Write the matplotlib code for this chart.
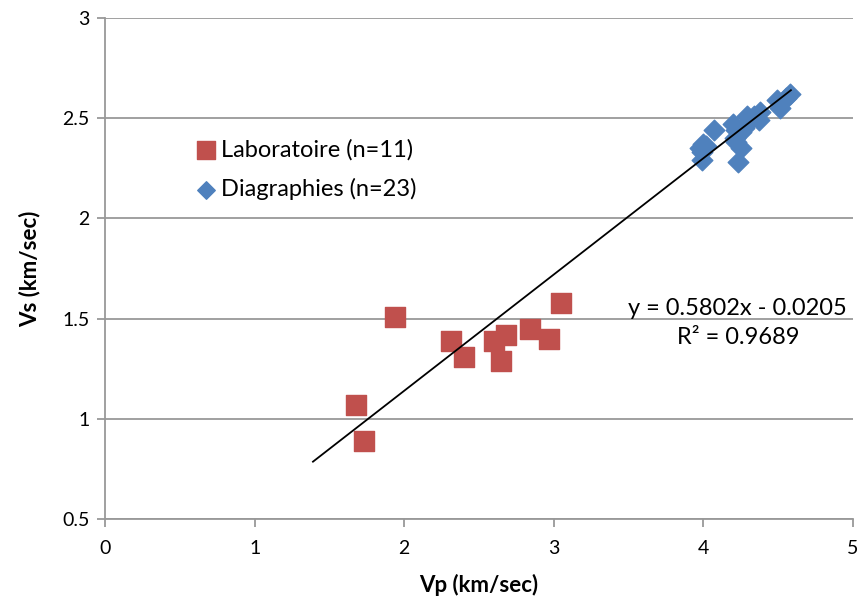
import matplotlib
matplotlib.use("Agg")
import matplotlib.pyplot as plt
import numpy as np

plt.rcParams['font.family'] = ['Lato', 'DejaVu Sans']

# Laboratoire (n=11)
lab_vp = [1.68, 1.73, 1.94, 2.31, 2.40, 2.60, 2.68, 2.65, 2.84, 2.97, 3.05]
lab_vs = [1.07, 0.89, 1.51, 1.39, 1.31, 1.39, 1.42, 1.29, 1.45, 1.40, 1.58]

# Diagraphies (n=23)
dia_vp = [4.58, 4.55, 4.49, 4.51, 4.38, 4.37, 4.29, 4.31, 4.20, 4.22, 4.07,
          4.25, 4.22, 4.25, 4.23, 3.98, 4.00, 3.99, 3.99, 4.02, 4.27, 4.34, 4.21]
dia_vs = [2.62, 2.60, 2.59, 2.55, 2.53, 2.49, 2.51, 2.49, 2.47, 2.44, 2.44,
          2.43, 2.38, 2.35, 2.28, 2.35, 2.37, 2.33, 2.29, 2.36, 2.45, 2.51, 2.40]

# linear trendline shown on the chart
slope = 0.5802
intercept = -0.0205
r2 = 0.9689
fit_x = [1.39, 4.585]

fig = plt.figure(figsize=(8.61, 6.08), dpi=100)
ax = fig.add_axes([0.122, 0.1464, 0.8687, 0.824])

ax.scatter(lab_vp, lab_vs, marker='s', s=210, color='#C0504D', zorder=3,
           label='Laboratoire (n=11)')
ax.scatter(dia_vp, dia_vs, marker='D', s=110, color='#4F81BD', zorder=3,
           label='Diagraphies (n=23)')

fx = np.array(fit_x)
ax.plot(fx, slope * fx + intercept, color='black', lw=1.3, zorder=4)

ax.set_xlim(0, 5)
ax.set_ylim(0.5, 3)
ax.set_xticks([0, 1, 2, 3, 4, 5])
ax.set_yticks([0.5, 1, 1.5, 2, 2.5, 3])
ax.set_yticklabels(['0.5', '1', '1.5', '2', '2.5', '3'])
ax.yaxis.grid(True, color='#999999', lw=1.3)
ax.set_axisbelow(True)
for s in ['top', 'right']:
    ax.spines[s].set_visible(False)
for s in ['left', 'bottom']:
    ax.spines[s].set_color('#999999')
    ax.spines[s].set_linewidth(1.3)
ax.tick_params(axis='both', colors='#999999', length=6, width=1.3,
               labelsize=14, labelcolor='black')
ax.tick_params(axis='x', pad=9)
ax.tick_params(axis='y', pad=5)

ax.set_xlabel('Vp (km/sec)', fontsize=16, fontweight='bold', labelpad=12)
ax.set_ylabel('Vs (km/sec)', fontsize=16, fontweight='bold', labelpad=16)

ax.text(4.23, 1.478, 'y = 0.5802x - 0.0205\nR² = 0.9689', ha='center',
        va='center', fontsize=17, linespacing=1.45)

leg = ax.legend(loc='upper left', bbox_to_anchor=(0.103, 0.782), frameon=False,
                fontsize=17, handletextpad=0.15, handlelength=1.0,
                markerscale=0.85, labelspacing=0.75, borderpad=0)

fig.savefig('out.png', dpi=100)
